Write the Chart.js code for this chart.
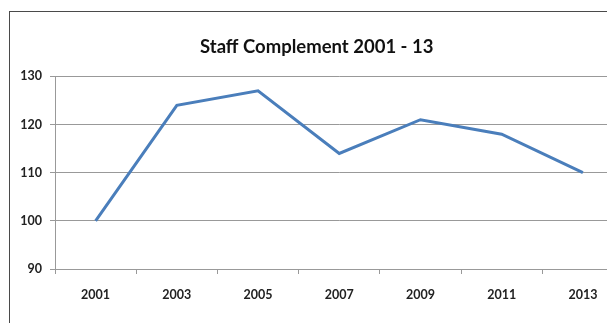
<html>
<head>
    <title>Staff Complement</title>
    <script src="https://cdn.jsdelivr.net/npm/chart.js"></script>
    <style>
        body { margin: 0; background: #fff; overflow: hidden; }
        #frame {
            position: absolute; left: 9px; top: 11px;
            width: 640px; height: 320px;
            border: 1px solid #4a4a4a;
        }
    </style>
</head>
<body>
    <div id="frame">
        <canvas id="staffChart" width="640" height="311"></canvas>
    </div>
    <script>
        const years = ['2001', '2003', '2005', '2007', '2009', '2011', '2013'];
        const staff = [100, 124, 127, 114, 121, 118, 110];
        const yTicks = [90, 100, 110, 120, 130];

        const font = { family: 'Lato, "Open Sans", sans-serif', size: 12.5, weight: 'bold' };

        new Chart(document.getElementById('staffChart'), {
            type: 'line',
            data: {
                labels: years,
                datasets: [{
                    data: staff,
                    borderColor: '#4a7ebb',
                    borderWidth: 3,
                    pointRadius: 0,
                    tension: 0,
                    fill: false
                }]
            },
            options: {
                responsive: false,
                animation: false,
                layout: { padding: { left: 0, right: 26.5, top: 0, bottom: 0 } },
                plugins: {
                    legend: { display: false },
                    tooltip: { enabled: false },
                    title: {
                        display: true,
                        text: 'Staff Complement 2001 - 13',
                        color: '#111',
                        font: { family: 'Lato, "Open Sans", sans-serif', size: 18.5, weight: 'bold' },
                        padding: { top: 24, bottom: 18.2 }
                    }
                },
                scales: {
                    x: {
                        offset: true,
                        grid: { offset: true, drawOnChartArea: false, drawTicks: true, tickLength: 5, color: '#999' },
                        border: { color: '#999', width: 1 },
                        ticks: { color: '#222', font: font, padding: 13, maxRotation: 0 },
                        afterFit: scale => { scale.height = 54; }
                    },
                    y: {
                        min: yTicks[0],
                        max: yTicks[yTicks.length - 1],
                        afterBuildTicks: scale => { scale.ticks = yTicks.map(v => ({ value: v })); },
                        grid: { color: '#999', lineWidth: 1, tickLength: 5 },
                        border: { color: '#999', width: 1 },
                        ticks: { color: '#222', font: font, padding: 8 },
                        afterFit: scale => { scale.width = 45; }
                    }
                }
            }
        });
    </script>
</body>
</html>
